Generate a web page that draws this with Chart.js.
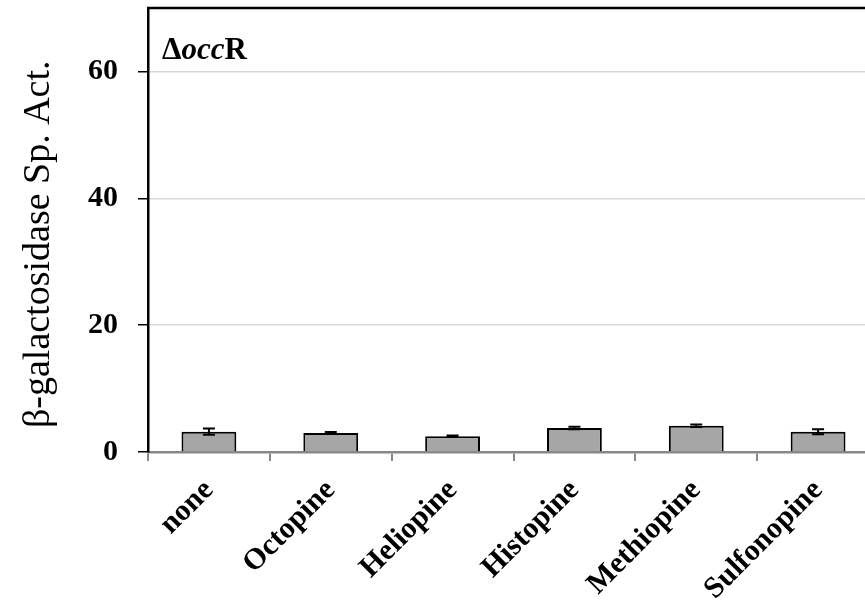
<!DOCTYPE html>
<html>
<head>
<meta charset="utf-8">
<script src="https://cdn.jsdelivr.net/npm/chart.js@4.4.1/dist/chart.umd.min.js"></script>
<style>
html,body{margin:0;padding:0;background:#fff;overflow:hidden;width:865px;height:608px;}
#wrap{width:880px;height:608px;}
</style>
</head>
<body>
<div id="wrap"><canvas id="c" width="880" height="608"></canvas></div>
<script>
const categories = ["none", "Octopine", "Heliopine", "Histopine", "Methiopine", "Sulfonopine"];
const activity = [3.2, 3.0, 2.5, 3.8, 4.15, 3.2];
const errors = [0.5, 0.15, 0.1, 0.2, 0.2, 0.4];
const yTicks = [0, 20, 40, 60];
const yMax = 70;
const panelLabel = ["\u0394", "occ", "R"];

const serif = "'Liberation Serif','Times New Roman',serif";

const errorBars = {
  id: 'errorBars',
  afterDatasetsDraw(chart) {
    const ctx = chart.ctx;
    const meta = chart.getDatasetMeta(0);
    const y = chart.scales.y;
    ctx.save();
    ctx.strokeStyle = '#000';
    ctx.lineWidth = 2;
    meta.data.forEach((bar, i) => {
      const v = activity[i], e = errors[i];
      const yt = y.getPixelForValue(v + e);
      const yb = y.getPixelForValue(v - e);
      const x = bar.x;
      ctx.beginPath();
      ctx.moveTo(x, yt); ctx.lineTo(x, yb);
      ctx.moveTo(x - 6, yt); ctx.lineTo(x + 6, yt);
      ctx.moveTo(x - 6, yb); ctx.lineTo(x + 6, yb);
      ctx.stroke();
    });
    ctx.restore();
  }
};

const frameAndLabel = {
  id: 'frameAndLabel',
  afterDraw(chart) {
    const ctx = chart.ctx;
    const a = chart.chartArea;
    ctx.save();
    ctx.strokeStyle = '#000';
    ctx.lineWidth = 2.5;
    ctx.beginPath();
    ctx.moveTo(a.left - 1, a.top);
    ctx.lineTo(a.right, a.top);
    ctx.stroke();
    let x = a.left + 14;
    const yb = a.top + 51;
    ctx.fillStyle = '#000';
    ctx.textBaseline = 'alphabetic';
    ctx.textAlign = 'left';
    ctx.font = "bold 31px " + serif;
    ctx.fillText(panelLabel[0], x, yb);
    x += ctx.measureText(panelLabel[0]).width;
    ctx.font = "italic bold 31px " + serif;
    ctx.fillText(panelLabel[1], x, yb);
    x += ctx.measureText(panelLabel[1]).width;
    ctx.font = "bold 31px " + serif;
    ctx.fillText(panelLabel[2], x, yb);
    ctx.restore();
  }
};

new Chart(document.getElementById('c'), {
  type: 'bar',
  data: {
    labels: categories,
    datasets: [{
      data: activity,
      backgroundColor: '#a6a6a6',
      borderColor: '#000',
      borderWidth: 2,
      borderSkipped: 'bottom',
      barPercentage: 0.45,
      categoryPercentage: 1.0
    }]
  },
  options: {
    responsive: false,
    animation: false,
    layout: { padding: { top: 8, right: 1, left: 0, bottom: 0 } },
    plugins: { legend: { display: false }, tooltip: { enabled: false } },
    scales: {
      x: {
        grid: { offset: true, drawOnChartArea: false, color: '#888', tickColor: '#888', tickLength: 9, lineWidth: 2 },
        border: { color: '#888', width: 2.5 },
        ticks: {
          color: '#000',
          font: { family: serif, size: 30, weight: 'bold' },
          minRotation: 45, maxRotation: 45,
          padding: 12,
          autoSkip: false
        },
        afterFit(scale) { scale.height = 156; scale.paddingTop = 0; scale.paddingBottom = 0; }
      },
      y: {
        min: 0, max: yMax,
        afterBuildTicks(scale) { scale.ticks = yTicks.map(v => ({ value: v })); },
        grid: { color: '#d9d9d9', lineWidth: 1.5, tickColor: '#000', tickLength: 10 },
        border: { color: '#000', width: 2.5 },
        ticks: {
          color: '#000',
          font: { family: serif, size: 30, weight: 'bold' },
          padding: 20
        },
        title: {
          display: true,
          text: 'β-galactosidase Sp. Act.\u00a0\u00a0\u00a0',
          color: '#000',
          font: { family: serif, size: 38, weight: 'normal' },
          padding: { top: 16, bottom: 0 }
        },
        afterFit(scale) { scale.width = 148; scale.paddingTop = 0; scale.paddingBottom = 0; }
      }
    }
  },
  plugins: [errorBars, frameAndLabel]
});
</script>
</body>
</html>
